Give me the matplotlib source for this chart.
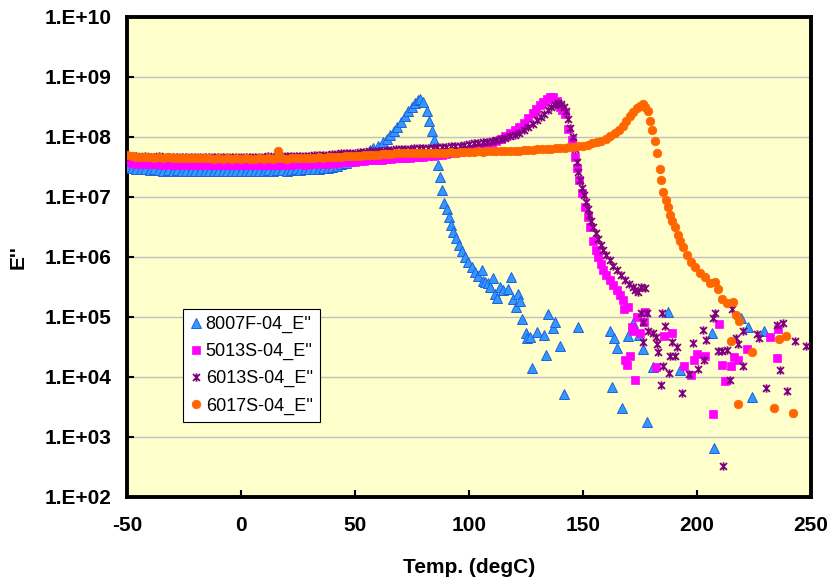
import numpy as np
import matplotlib
matplotlib.use("Agg")
import matplotlib.pyplot as plt
from matplotlib.path import Path

plt.rcParams["font.family"] = ["Liberation Sans", "DejaVu Sans"]

# ------------------------------------------------------------
# data (E'' in Pa vs temperature in degC)
# ------------------------------------------------------------
t_8007F = [-50, -48, -46, -44, -42, -40, -38, -36, -34, -32,
           -30, -28, -26, -24, -22, -20, -18, -16, -14, -12,
           -10, -8, -6, -4, -2, 0, 2, 4, 6, 8,
           10, 12, 14, 16, 18, 20, 22, 24, 26, 28,
           30, 32, 34, 36, 38, 40, 42, 44, 46, 48,
           50, 52, 54, 56.6, 58.0, 60.0, 62.3, 64.0, 65.4, 67.0,
           68.4, 70.0, 71.9, 73.2, 75.0, 76.3, 77.6, 78.5, 79.8, 81.6,
           82.5, 83.6, 84.6, 86.4, 87.3, 88.2, 89.0, 90.4, 91.2, 92.1,
           93.0, 94.3, 95.6, 96.9, 98.2, 99.6, 101.3, 102.6, 103.9, 105.7,
           106.0, 107.0, 108.3, 109.2, 110.5, 111.4, 112.3, 113.6, 114.9, 117.1,
           118.4, 119.3, 120.6, 121.5, 122.4, 123.2, 125.0, 125.4, 126.8, 127.6,
           129.8, 132.9, 133.8, 134.7, 136.8, 137.7, 139.9, 141.7, 147.8, 161.8,
           162.7, 163.7, 164.8, 166.9, 169.9, 172.0, 174.7, 176.4, 177.9, 180.6,
           187.4, 192.5, 206.4, 207.5, 219.3, 222.5, 224.3, 229.4]
e_8007F = [3.2e7, 3.0e7, 2.95e7, 2.95e7, 2.9e7, 2.8e7, 2.9e7, 2.8e7, 2.75e7, 2.8e7,
           2.75e7, 2.8e7, 2.75e7, 2.7e7, 2.75e7, 2.75e7, 2.7e7, 2.75e7, 2.7e7, 2.75e7,
           2.7e7, 2.75e7, 2.7e7, 2.7e7, 2.75e7, 2.7e7, 2.75e7, 2.7e7, 2.75e7, 2.75e7,
           2.75e7, 2.8e7, 2.75e7, 2.8e7, 2.8e7, 2.75e7, 2.8e7, 2.9e7, 2.8e7, 2.9e7,
           2.9e7, 2.95e7, 2.95e7, 3.0e7, 3.1e7, 3.2e7, 3.3e7, 3.5e7, 3.7e7, 4.0e7,
           4.3e7, 4.7e7, 5.1e7, 6.0e7, 6.6e7, 7.2e7, 8.3e7, 9.3e7, 1.07e8, 1.26e8,
           1.48e8, 1.78e8, 2.24e8, 2.69e8, 3.16e8, 3.72e8, 4.17e8, 4.37e8, 3.8e8, 2.69e8,
           1.86e8, 1.26e8, 8.9e7, 3.4e7, 2.14e7, 1.32e7, 7.9e6, 6.3e6, 4.7e6, 3.4e6,
           2.6e6, 2.1e6, 1.58e6, 1.26e6, 1.0e6, 8.3e5, 6.8e5, 5.6e5, 4.8e5, 6.0e5,
           4.0e5, 3.8e5, 3.7e5, 3.2e5, 4.5e5, 2.4e5, 2.1e5, 3.2e5, 2.8e5, 2.95e5,
           4.7e5, 2.0e5, 1.48e5, 2.4e5, 1.86e5, 9.3e4, 5.4e4, 4.5e4, 4.7e4, 1.41e4,
           5.6e4, 5.0e4, 2.3e4, 1.12e5, 6.6e4, 8.3e4, 3.3e4, 5.2e3, 6.8e4, 5.8e4,
           6.8e3, 4.4e4, 3.1e4, 3.1e3, 4.8e4, 7.8e4, 5.0e4, 2.9e4, 1.78e3, 1.45e4,
           1.23e5, 1.32e4, 5.4e4, 6.6e2, 9.8e4, 6.9e4, 4.6e3, 5.9e4]

t_5013S = [-50, -48, -46, -44, -42, -40, -38, -36, -34, -32,
           -30, -28, -26, -24, -22, -20, -18, -16, -14, -12,
           -10, -8, -6, -4, -2, 0, 2, 4, 6, 8,
           10, 12, 14, 16, 18, 20, 22, 24, 26, 28,
           30, 32, 34, 36, 38, 40, 42, 44, 46, 48,
           50, 52, 54, 56, 58, 60, 62, 64, 66, 68,
           70, 72, 74, 76, 78, 80, 82, 84, 86, 88,
           90, 92, 94, 96, 98, 100, 102, 104, 106, 108,
           110, 112, 114, 116, 118, 120, 122, 124, 126, 128,
           129.5, 131.0, 132.5, 134.0, 135.5, 137.0, 138.5, 140.0, 141.0, 142.1,
           143.6, 145.0, 146.5, 147.2, 148.4, 149.4, 150.9, 152.0, 153.1, 154.5,
           155.5, 156.7, 157.8, 158.9, 160.2, 161.8, 163.2, 164.8, 166.3, 167.7,
           169.9, 168.1, 173.8, 177.2, 176.9, 171.4, 172.0, 175.0, 170.6, 168.4,
           169.4, 172.8, 182.0, 185.5, 188.9, 194.3, 197.2, 198.7, 200.1, 203.5,
           207.2, 209.8, 211.1, 212.3, 214.8, 216.2, 218.1, 221.8, 232.0, 235.0,
           235.4]
e_5013S = [3.8e7, 3.7e7, 3.6e7, 3.6e7, 3.55e7, 3.55e7, 3.6e7, 3.55e7, 3.45e7, 3.55e7,
           3.45e7, 3.45e7, 3.55e7, 3.45e7, 3.4e7, 3.45e7, 3.4e7, 3.45e7, 3.4e7, 3.4e7,
           3.45e7, 3.4e7, 3.4e7, 3.45e7, 3.4e7, 3.4e7, 3.45e7, 3.4e7, 3.45e7, 3.4e7,
           3.45e7, 3.45e7, 3.4e7, 3.45e7, 3.45e7, 3.55e7, 3.45e7, 3.55e7, 3.55e7, 3.45e7,
           3.55e7, 3.6e7, 3.55e7, 3.6e7, 3.6e7, 3.7e7, 3.7e7, 3.8e7, 3.8e7, 3.9e7,
           3.9e7, 4.0e7, 4.0e7, 4.1e7, 4.1e7, 4.2e7, 4.2e7, 4.3e7, 4.3e7, 4.4e7,
           4.4e7, 4.5e7, 4.5e7, 4.6e7, 4.6e7, 4.7e7, 4.8e7, 4.9e7, 5.0e7, 5.1e7,
           5.25e7, 5.4e7, 5.5e7, 5.6e7, 5.75e7, 6.0e7, 6.2e7, 6.5e7, 6.8e7, 7.2e7,
           7.9e7, 8.5e7, 9.3e7, 1.02e8, 1.15e8, 1.29e8, 1.45e8, 1.7e8, 2.04e8, 2.5e8,
           2.95e8, 3.47e8, 3.9e8, 4.37e8, 4.68e8, 4.57e8, 4.0e8, 3.16e8, 2.8e8, 2.45e8,
           1.38e8, 8.9e7, 4.7e7, 3.0e7, 1.9e7, 1.15e7, 6.9e6, 4.7e6, 3.16e6, 1.82e6,
           1.32e6, 1.0e6, 7.6e5, 6.0e5, 5.0e5, 4.2e5, 3.4e5, 2.8e5, 2.3e5, 1.9e5,
           1.48e5, 1.35e5, 1.0e5, 1.23e5, 8.3e4, 6.9e4, 5.8e4, 5.5e4, 2.24e4, 1.9e4,
           1.58e4, 8.9e3, 1.45e4, 4.8e4, 5.5e4, 1.55e4, 1.07e4, 1.9e4, 2.4e4, 2.24e4,
           2.4e3, 7.6e4, 1.58e4, 8.7e3, 1.5e4, 2.14e4, 1.9e4, 2.9e4, 4.7e4, 2.1e4,
           6.3e4]

t_6013S = [-50, -48, -46, -44, -42, -40, -38, -36, -34, -32,
           -30, -28, -26, -24, -22, -20, -18, -16, -14, -12,
           -10, -8, -6, -4, -2, 0, 2, 4, 6, 8,
           10, 12, 14, 16, 18, 20, 22, 24, 26, 28,
           30, 32, 34, 36, 38, 40, 42, 44, 46, 48,
           50, 52, 54, 56, 58, 60, 62, 64, 66, 68,
           70, 72, 74, 76, 78, 80, 82, 84, 86, 88,
           90, 92, 94, 96, 98, 100, 102, 104, 106, 108,
           110, 112, 114, 116, 118, 120, 122, 124, 126, 128,
           130, 131.5, 133, 134.5, 136, 137.5, 139, 140.5, 141.5, 142.5,
           143.5, 144.5, 145.5, 146.5, 147.3, 148.0, 148.7, 149.5, 150.3, 151.2,
           152.0, 152.8, 153.7, 154.5, 155.5, 156.5, 157.7, 158.9, 160.2, 161.8,
           163.2, 164.8, 166.5, 168.4, 170.2, 172.1, 174.3, 175.5, 177.2, 172.8,
           175.3, 177.9, 184.5, 186.0, 178.6, 180.8, 182.0, 176.2, 182.3, 183.0,
           188.9, 191.1, 188.2, 190.4, 185.2, 187.9, 184.1, 193.3, 196.6, 198.1,
           200.6, 202.8, 204.0, 203.1, 207.2, 207.9, 209.4, 210.8, 213.0, 214.5,
           215.2, 217.1, 218.1, 220.0, 220.3, 226.4, 227.3, 230.1, 235.2, 237.9,
           236.4, 239.3, 243.0, 247.8, 211.5, 176.2]
e_6013S = [4.9e7, 4.8e7, 4.8e7, 4.7e7, 4.8e7, 4.7e7, 4.7e7, 4.8e7, 4.6e7, 4.7e7,
           4.7e7, 4.6e7, 4.7e7, 4.6e7, 4.7e7, 4.6e7, 4.6e7, 4.7e7, 4.6e7, 4.6e7,
           4.7e7, 4.6e7, 4.6e7, 4.7e7, 4.6e7, 4.6e7, 4.7e7, 4.6e7, 4.7e7, 4.7e7,
           4.7e7, 4.8e7, 4.7e7, 4.8e7, 4.8e7, 4.8e7, 4.9e7, 4.8e7, 4.9e7, 4.9e7,
           4.9e7, 5.0e7, 5.0e7, 5.1e7, 5.1e7, 5.25e7, 5.25e7, 5.4e7, 5.4e7, 5.5e7,
           5.5e7, 5.6e7, 5.6e7, 5.75e7, 5.75e7, 5.9e7, 5.9e7, 6.0e7, 6.0e7, 6.2e7,
           6.2e7, 6.3e7, 6.3e7, 6.5e7, 6.5e7, 6.6e7, 6.6e7, 6.6e7, 6.8e7, 6.9e7,
           6.9e7, 7.1e7, 7.2e7, 7.2e7, 7.4e7, 7.6e7, 7.8e7, 7.9e7, 8.1e7, 8.3e7,
           8.5e7, 8.9e7, 9.3e7, 9.8e7, 1.02e8, 1.1e8, 1.17e8, 1.29e8, 1.45e8, 1.66e8,
           1.9e8, 2.14e8, 2.45e8, 2.8e8, 3.16e8, 3.47e8, 3.7e8, 3.55e8, 3.2e8, 2.7e8,
           2.0e8, 1.41e8, 1.0e8, 6.3e7, 3.8e7, 2.6e7, 1.9e7, 1.41e7, 1.1e7, 8.3e6,
           6.3e6, 5.0e6, 4.0e6, 3.16e6, 2.5e6, 2.0e6, 1.58e6, 1.32e6, 1.1e6, 8.9e5,
           7.2e5, 6.0e5, 5.0e5, 4.2e5, 3.6e5, 3.16e5, 2.6e5, 3.16e5, 3.0e5, 2.8e5,
           1.15e5, 1.17e5, 1.17e5, 7.1e4, 5.9e4, 5.4e4, 4.6e4, 3.9e4, 3.6e4, 2.6e4,
           3.9e4, 3.2e4, 2.24e4, 2.2e4, 1.5e4, 1.17e4, 7.4e3, 5.5e3, 1.12e4, 3.7e4,
           1.38e4, 6.0e4, 4.2e4, 1.95e4, 9.5e4, 1.15e5, 2.75e4, 2.75e4, 2.8e4, 8.9e3,
           1.35e5, 4.4e4, 3.6e4, 5.9e4, 1.5e4, 5.2e4, 4.4e4, 6.5e3, 7.4e4, 7.9e4,
           1.32e4, 5.8e3, 4.0e4, 3.3e4, 3.3e2, 8.3e4]

t_6017S = [-50, -48, -46, -44, -42, -40, -38, -36, -34, -32,
           -30, -28, -26, -24, -22, -20, -18, -16, -14, -12,
           -10, -8, -6, -4, -2, 0, 2, 4, 6, 8,
           10, 12, 14, 16, 18, 20, 22, 24, 26, 28,
           30, 32, 34, 36, 38, 40, 42, 44, 46, 48,
           50, 52, 54, 56, 58, 60, 62, 64, 66, 68,
           70, 72, 74, 76, 78, 80, 82, 84, 86, 88,
           90, 92, 94, 96, 98, 100, 102, 104, 106, 108,
           110, 112, 114, 116, 118, 120, 122, 124, 126, 128,
           130, 132, 134, 136, 138, 140, 142, 144, 146, 148,
           150, 152, 154, 156, 158, 160, 162, 164, 166, 167.5,
           169.0, 170.5, 172.0, 173.5, 175.0, 176.3, 177.3, 178.3, 179.4, 180.4,
           181.6, 182.6, 183.8, 184.4, 185.2, 186.3, 187.1, 188.2, 189.2, 190.4,
           191.5, 192.5, 194.0, 195.5, 197.2, 199.1, 201.3, 203.5, 205.7, 207.9,
           209.1, 210.8, 213.0, 215.7, 217.1, 218.6, 214.8, 224.0, 236.0, 238.9,
           218.1, 233.9, 241.9, 16.2]
e_6017S = [5.0e7, 4.8e7, 4.7e7, 4.6e7, 4.7e7, 4.6e7, 4.5e7, 4.6e7, 4.5e7, 4.6e7,
           4.5e7, 4.4e7, 4.5e7, 4.4e7, 4.5e7, 4.4e7, 4.4e7, 4.5e7, 4.4e7, 4.3e7,
           4.4e7, 4.3e7, 4.4e7, 4.3e7, 4.4e7, 4.3e7, 4.4e7, 4.3e7, 4.3e7, 4.4e7,
           4.3e7, 4.4e7, 4.3e7, 4.4e7, 4.4e7, 4.3e7, 4.4e7, 4.4e7, 4.5e7, 4.4e7,
           4.5e7, 4.5e7, 4.6e7, 4.5e7, 4.6e7, 4.6e7, 4.7e7, 4.7e7, 4.8e7, 4.8e7,
           4.9e7, 4.9e7, 5.0e7, 5.0e7, 5.1e7, 5.1e7, 5.25e7, 5.25e7, 5.25e7, 5.4e7,
           5.4e7, 5.4e7, 5.5e7, 5.4e7, 5.5e7, 5.5e7, 5.5e7, 5.4e7, 5.5e7, 5.5e7,
           5.5e7, 5.6e7, 5.5e7, 5.6e7, 5.6e7, 5.6e7, 5.6e7, 5.75e7, 5.6e7, 5.75e7,
           5.75e7, 5.75e7, 5.9e7, 5.75e7, 5.9e7, 5.9e7, 5.9e7, 6.0e7, 6.0e7, 6.0e7,
           6.2e7, 6.2e7, 6.3e7, 6.3e7, 6.5e7, 6.5e7, 6.6e7, 6.8e7, 6.9e7, 7.1e7,
           7.2e7, 7.4e7, 7.8e7, 8.1e7, 8.7e7, 9.3e7, 1.02e8, 1.15e8, 1.32e8, 1.51e8,
           1.82e8, 2.2e8, 2.6e8, 3.0e8, 3.3e8, 3.55e8, 3.16e8, 2.75e8, 1.86e8, 1.32e8,
           8.7e7, 5.4e7, 2.95e7, 1.9e7, 1.23e7, 8.9e6, 6.8e6, 5.1e6, 4.0e6, 3.16e6,
           2.3e6, 1.86e6, 1.48e6, 1.07e6, 8.3e5, 6.9e5, 5.5e5, 4.7e5, 3.7e5, 3.9e5,
           2.9e5, 2.0e5, 1.7e5, 1.8e5, 1.07e5, 8.7e4, 4.0e4, 2.6e4, 4.3e4, 4.8e4,
           3.6e3, 3.0e3, 2.5e3, 5.75e7]

labels = ["8007F-04_E''", "5013S-04_E''", "6013S-04_E''", "6017S-04_E''"]
xticks = [-50, 0, 50, 100, 150, 200, 250]
yticks = [1e2, 1e3, 1e4, 1e5, 1e6, 1e7, 1e8, 1e9, 1e10]
ytick_labels = ["1.E+02", "1.E+03", "1.E+04", "1.E+05", "1.E+06",
                "1.E+07", "1.E+08", "1.E+09", "1.E+10"]

# star marker (x with a vertical bar), like the spreadsheet one
star = Path([(-1, -1), (1, 1), (-1, 1), (1, -1), (0, -1.2), (0, 1.2)],
            [Path.MOVETO, Path.LINETO, Path.MOVETO, Path.LINETO,
             Path.MOVETO, Path.LINETO])

fig = plt.figure(figsize=(8.39, 5.80), dpi=100)
ax = fig.add_axes([127 / 839, 83 / 580, 684 / 839, 480 / 580])
ax.set_facecolor("#FFFFCC")

ax.plot(t_8007F, e_8007F, ls="none", marker="^", ms=6.8,
        mfc="#3399FF", mec="#1F5FE0", mew=0.7, label=labels[0], zorder=3)
ax.plot(t_5013S, e_5013S, ls="none", marker="s", ms=5.6,
        mfc="#FF00FF", mec="#FF00FF", mew=0.5, label=labels[1], zorder=4)
ax.plot(t_6013S, e_6013S, ls="none", marker=star, ms=6.0,
        mfc="none", mec="#800080", mew=1.3, label=labels[2], zorder=5)
ax.plot(t_6017S, e_6017S, ls="none", marker="o", ms=6.2,
        mfc="#FF6600", mec="#FF6600", mew=0.5, label=labels[3], zorder=6)

ax.set_yscale("log")
ax.set_xlim(-50, 250)
ax.set_ylim(1e2, 1e10)
ax.set_xticks(xticks)
ax.set_xticklabels([str(v) for v in xticks])
ax.set_yticks(yticks)
ax.set_yticklabels(ytick_labels)
ax.yaxis.set_minor_locator(matplotlib.ticker.NullLocator())
ax.grid(axis="y", color="#C0C0C0", lw=1.0, zorder=0)
ax.set_axisbelow(True)

for s in ax.spines.values():
    s.set_linewidth(2.8)
    s.set_color("black")

ax.tick_params(axis="both", direction="in", length=5, width=1.5, labelsize=15)
ax.tick_params(axis="x", pad=14)
ax.tick_params(axis="y", pad=11)
for lab in ax.get_xticklabels() + ax.get_yticklabels():
    lab.set_fontweight("bold")

ax.set_xlabel("Temp. (degC)", fontsize=15, fontweight="bold", labelpad=16)
ax.set_ylabel("E''", fontsize=15, fontweight="bold", labelpad=12)

leg = ax.legend(loc="upper left", bbox_to_anchor=(0.082, 0.392),
                borderaxespad=0, fancybox=False, frameon=True,
                handlelength=0.6, handletextpad=0.25, labelspacing=0.55,
                borderpad=0.4, fontsize=13, markerscale=1.0)
leg.get_frame().set_edgecolor("black")
leg.get_frame().set_linewidth(0.8)
leg.get_frame().set_facecolor("white")
leg.get_frame().set_alpha(1.0)

fig.savefig("out.png", dpi=100)
